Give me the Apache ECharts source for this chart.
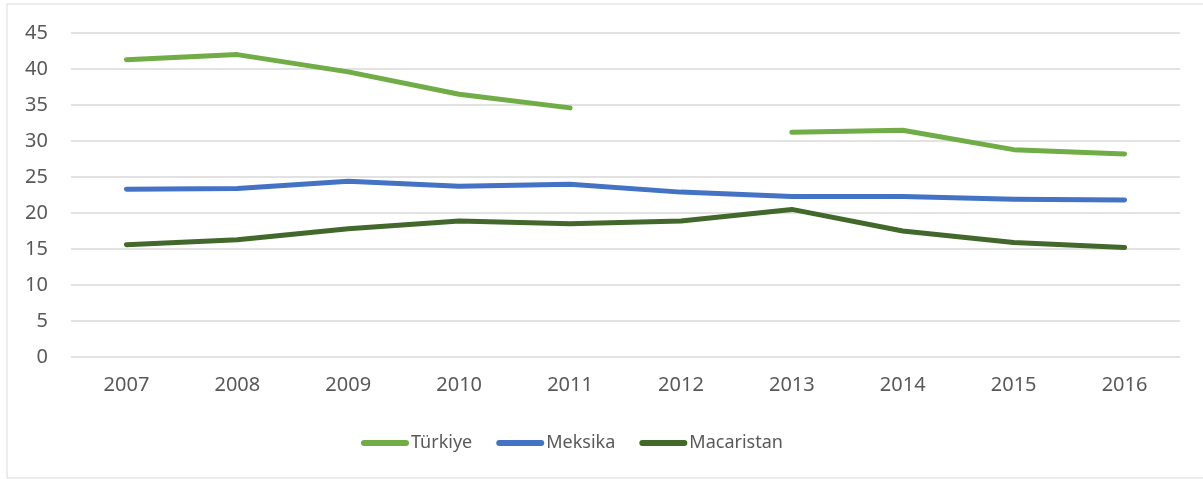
<!DOCTYPE html>
<html>
<head>
<meta charset="utf-8">
<script src="https://cdn.jsdelivr.net/npm/echarts@6/dist/echarts.min.js"></script>
<style>
html, body { margin: 0; padding: 0; background: #fff; }
#chart { width: 1203px; height: 479px; }
</style>
</head>
<body>
<div id="chart"></div>
<script>
const years = ['2007', '2008', '2009', '2010', '2011', '2012', '2013', '2014', '2015', '2016']
// 2012 has no value for Türkiye
const turkiye = [41.3, 42.0, 39.6, 36.5, 34.6, null, 31.2, 31.5, 28.8, 28.2]
const meksika = [23.3, 23.4, 24.4, 23.7, 24.0, 22.9, 22.3, 22.3, 21.9, 21.8]
const macaristan = [15.6, 16.3, 17.8, 18.9, 18.5, 18.9, 20.5, 17.5, 15.9, 15.2]

const textColor = '#595959'
const gridColor = '#d9d9d9'
const pill = 'path://M3,0 L45,0 A3,3 0 0 1 45,6 L3,6 A3,3 0 0 1 3,0 Z'

const chart = echarts.init(document.getElementById('chart'))

const makeLine = (name, data, color) => ({
    name: name,
    type: 'line',
    data: data,
    symbol: 'none',
    connectNulls: false,
    lineStyle: { color: color, width: 5, cap: 'round', join: 'round' },
    itemStyle: { color: color }
})

const option = {
    backgroundColor: '#fff',
    animation: false,
    graphic: [{
        type: 'rect',
        shape: { x: 7, y: 4, width: 1210, height: 474 },
        style: { fill: 'none', stroke: gridColor, lineWidth: 1 },
        silent: true
    }],
    grid: {
        left: 71,
        right: 23,
        top: 33,
        bottom: 122
    },
    legend: {
        left: 356,
        top: 429,
        itemWidth: 48,
        itemHeight: 6,
        itemGap: 24,
        icon: pill,
        textStyle: { color: textColor, fontSize: 18, fontFamily: 'Noto Sans', padding: [0, 0, 0, -3] },
        data: ['Türkiye', 'Meksika', 'Macaristan']
    },
    xAxis: {
        type: 'category',
        data: years,
        boundaryGap: true,
        axisLine: { show: false },
        axisTick: { show: false },
        axisLabel: { color: textColor, fontSize: 20, fontFamily: 'Noto Sans', margin: 18 }
    },
    yAxis: {
        type: 'value',
        min: 0,
        max: 45,
        interval: 5,
        axisLine: { show: false },
        axisTick: { show: false },
        axisLabel: { color: textColor, fontSize: 20, fontFamily: 'Noto Sans', margin: 23 },
        splitLine: { lineStyle: { color: gridColor, width: 1.5 } }
    },
    series: [
        makeLine('Türkiye', turkiye, '#70ad47'),
        makeLine('Meksika', meksika, '#4472c4'),
        makeLine('Macaristan', macaristan, '#43682b')
    ]
}

chart.setOption(option)
</script>
</body>
</html>
